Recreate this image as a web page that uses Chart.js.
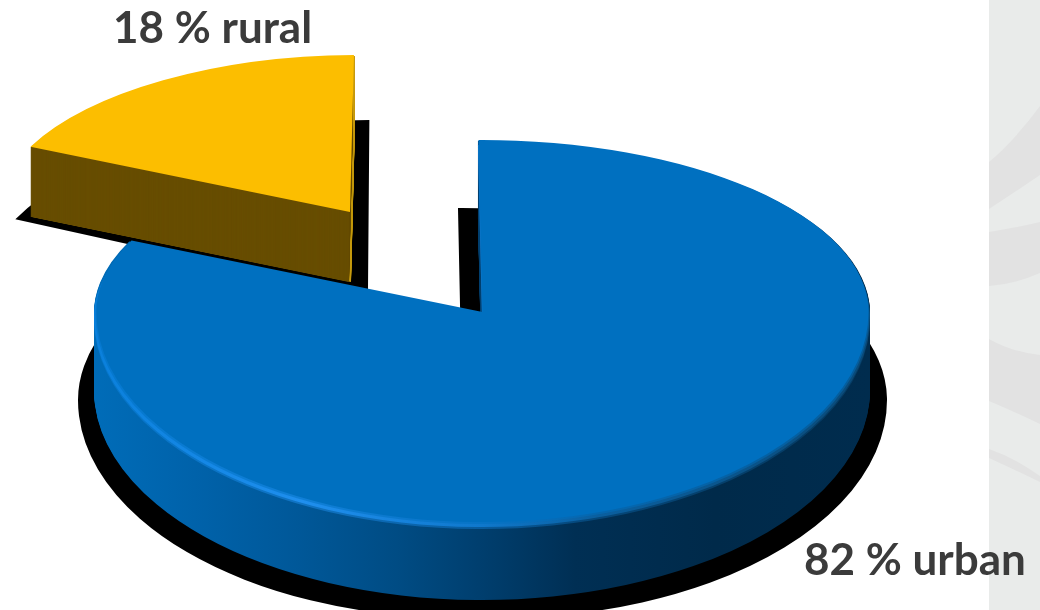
<!DOCTYPE html>
<html>
<head>
<meta charset="utf-8">
<script src="https://cdn.jsdelivr.net/npm/chart.js@4"></script>
<style>
  html, body { margin: 0; padding: 0; background: #fff; overflow: hidden; }
  #wrap { position: relative; width: 1040px; height: 610px; }
  #panel { position: absolute; left: 989px; top: 0; width: 51px; height: 610px; }
  #piechart { position: absolute; left: 0; top: 0; }
</style>
</head>
<body>
<div id="wrap">
  <svg id="panel" viewBox="989 0 51 610">
    <rect x="989" y="0" width="51" height="610" fill="#e9ebea"/>
    <path d="M989 162 Q1015 140 1040 106 L1040 175 Q1015 192 989 209 Z" fill="#e2e2e2"/>
    <path d="M989 232 Q1015 228 1040 222 L1040 273 Q1015 284 989 286 Z" fill="#e2e2e2"/>
    <path d="M989 339 Q1012 352 1040 355 L1040 424 Q1015 412 989 401 Z" fill="#e2e2e2"/>
    <path d="M989 449 Q1015 458 1040 476 L1040 482 Q1015 470 989 458 Z" fill="#e2e2e2"/>
  </svg>
  <canvas id="piechart" width="1040" height="610"></canvas>
</div>
<script>
// データ
const categories = ["urban", "rural"];
const shares = [82, 18];

// 3D look: each slice is drawn as squashed copies of the chart's own arc
const URBAN = {
  x: 482, y: 312, rx: 388, ryUp: 172, ryDown: 210, depth: 78,
};
const RURAL = {
  x: 350, y: 212, rx: 355, ryUp: 157, ryDown: 157, depth: 70, shear: -0.049,
};

function paintArc(ctx, arc, fill, x, y, rx, ryUp, ryDown, shear = 0) {
  const r = arc.outerRadius;
  const orig = arc.options;
  const opts = Object.create(orig);
  opts.backgroundColor = fill;
  arc.options = opts;
  // upper and lower half have a different squash, the far side looks shorter
  [[-100, y, ryUp], [y, 800, ryDown]].forEach(([top, h, ry]) => {
    ctx.save();
    ctx.beginPath();
    ctx.rect(-100, top, 1300, top < 0 ? y + 100 : h);
    ctx.clip();
    ctx.translate(x, y);
    ctx.transform(1, 0, shear, 1, 0, 0);
    ctx.scale(rx / r, ry / r);
    ctx.translate(-arc.x, -arc.y);
    arc.draw(ctx);
    ctx.restore();
  });
  arc.options = orig;
}

function hGradient(ctx, arc, stops) {
  // stops are given on the arc's own x range, 0 = left rim, 1 = right rim
  const r = arc.outerRadius;
  const g = ctx.createLinearGradient(arc.x - r, 0, arc.x + r, 0);
  stops.forEach(([p, c]) => g.addColorStop(p, c));
  return g;
}

const pie3d = {
  id: "pie3d",
  beforeDatasetsDraw(chart) {
    const ctx = chart.ctx;
    const [urban, rural] = chart.getDatasetMeta(0).data;

    // rural: shadow, wall, top
    let s = RURAL;
    paintArc(ctx, rural, "#000", s.x - 14, 290, s.rx, 170, 170, -0.03);
    paintArc(ctx, rural, "#000", s.x + 18, 290, s.rx, 170, 170, -0.03);
    for (let d = s.depth; d > 0; d--) {
      paintArc(ctx, rural, "#c69a10", s.x + 1, s.y + d, s.rx, s.ryUp, s.ryDown, s.shear);
    }
    for (let d = s.depth; d > 0; d--) {
      paintArc(ctx, rural, "#674d00", s.x - 1, s.y + d, s.rx - 1, s.ryUp, s.ryDown, s.shear);
    }
    paintArc(ctx, rural, "#fcbe00", s.x, s.y, s.rx, s.ryUp, s.ryDown, s.shear);

    // urban: shadow, wall, bevel, top
    s = URBAN;
    paintArc(ctx, urban, "#000", s.x - 20, 400, 384, 192, 218);
    paintArc(ctx, urban, "#000", s.x + 16, 400, 389, 192, 218);
    const wall = hGradient(ctx, urban, [
      [0, "#006cb8"], [0.13, "#0062aa"], [0.26, "#005899"], [0.39, "#004c84"],
      [0.52, "#003c6a"], [0.62, "#002f54"], [0.8, "#002a4a"], [1, "#002c4e"],
    ]);
    for (let d = s.depth; d > 0; d--) {
      paintArc(ctx, urban, wall, s.x, s.y + d, s.rx, s.ryUp, s.ryDown);
    }
    const bevel = hGradient(ctx, urban, [
      [0, "#0a80dc"], [0.27, "#1f8fee"], [0.5, "#0f78cc"], [0.65, "#0a5f9f"], [1, "#0a4a78"],
    ]);
    ctx.globalAlpha = 0.5;
    paintArc(ctx, urban, bevel, s.x, s.y + 7, s.rx, s.ryUp, s.ryDown);
    ctx.globalAlpha = 1;
    paintArc(ctx, urban, bevel, s.x, s.y + 5, s.rx, s.ryUp, s.ryDown);
    ctx.globalAlpha = 0.5;
    paintArc(ctx, urban, "#0070c0", s.x + 0.5, s.y + 2, s.rx - 1, s.ryUp, s.ryDown);
    ctx.globalAlpha = 1;
    paintArc(ctx, urban, "#0070c0", s.x + 0.5, s.y, s.rx - 2, s.ryUp, s.ryDown);

    return false;
  },
  afterDraw(chart) {
    const ctx = chart.ctx;
    ctx.save();
    ctx.fillStyle = "#3b3b3b";
    ctx.font = 'bold 44px Lato';
    ctx.textBaseline = "alphabetic";
    ctx.fillText(shares[1] + " % " + categories[1], 113, 43);
    ctx.fillText(shares[0] + " % " + categories[0], 804, 575);
    ctx.restore();
  },
};

new Chart(document.getElementById("piechart").getContext("2d"), {
  type: "pie",
  data: {
    labels: categories,
    datasets: [{ data: shares, backgroundColor: ["#0070c0", "#fcbe00"], borderWidth: 0 }],
  },
  options: {
    responsive: false,
    animation: false,
    rotation: -0.6,
    plugins: { legend: { display: false }, tooltip: { enabled: false } },
  },
  plugins: [pie3d],
});
</script>
</body>
</html>
